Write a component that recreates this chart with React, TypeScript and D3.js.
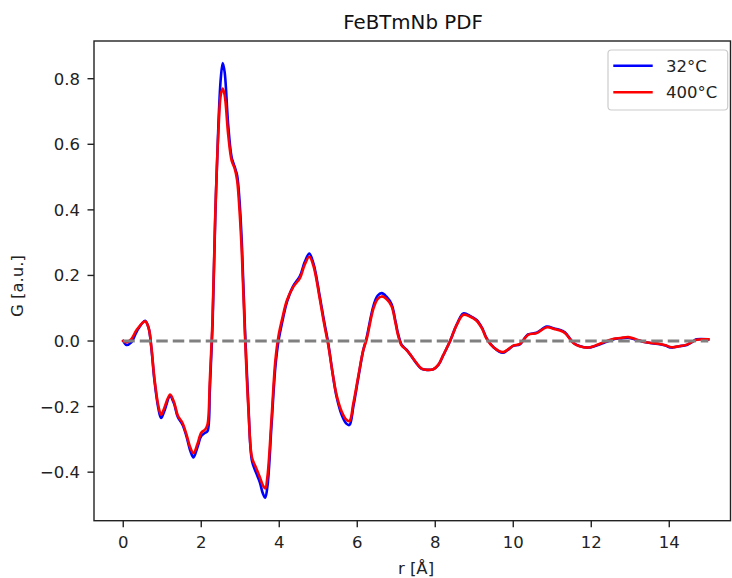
import React from "react";
import * as d3 from "d3";

const W = 732;
const H = 578;

// r grid [Å]
const rVals = [
  0.0, 0.08, 0.2, 0.35, 0.56, 0.65, 0.72, 0.8, 0.9, 0.97, 1.05, 1.2, 1.3, 1.4, 1.52, 1.62, 1.72, 1.8, 1.9, 2.0,
  2.1, 2.16, 2.22, 2.29, 2.36, 2.44, 2.5, 2.55, 2.6, 2.69, 2.78, 2.86, 2.92, 2.98, 3.04, 3.12, 3.21, 3.3, 3.4, 3.5,
  3.58, 3.64, 3.7, 3.8, 3.9, 3.98, 4.08, 4.2, 4.36, 4.53, 4.65, 4.77, 4.88, 5.04, 5.15, 5.26, 5.37, 5.47, 5.6, 5.72,
  5.8, 5.9, 6.03, 6.15, 6.24, 6.41, 6.52, 6.63, 6.75, 6.88, 6.98, 7.05, 7.14, 7.25, 7.35, 7.5, 7.65, 7.8, 7.95, 8.08,
  8.2, 8.38, 8.55, 8.72, 8.9, 9.06, 9.2, 9.32, 9.5, 9.73, 9.85, 10.0, 10.17, 10.38, 10.6, 10.86, 11.05, 11.2, 11.33, 11.54,
  11.7, 11.92, 12.1, 12.27, 12.56, 12.75, 12.95, 13.15, 13.33, 13.55, 13.76, 13.9, 14.06, 14.25, 14.45, 14.6, 14.7, 15.0,
];

// 32°C
const g32 = [
  0.0, -0.012, -0.005, 0.03, 0.062, 0.04, -0.02, -0.12, -0.205, -0.235, -0.215, -0.168, -0.19, -0.232, -0.255, -0.29, -0.335, -0.355, -0.325, -0.29,
  -0.28, -0.275, -0.15, 0.05, 0.38, 0.66, 0.8, 0.848, 0.82, 0.66, 0.56, 0.53, 0.505, 0.43, 0.3, 0.04, -0.2, -0.365, -0.4, -0.43,
  -0.465, -0.478, -0.44, -0.26, -0.08, 0.0, 0.06, 0.12, 0.168, 0.198, 0.24, 0.267, 0.235, 0.135, 0.06, -0.01, -0.1, -0.17, -0.225, -0.252,
  -0.256, -0.2, -0.11, -0.03, 0.01, 0.105, 0.138, 0.146, 0.135, 0.112, 0.06, 0.02, -0.012, -0.025, -0.04, -0.065, -0.085, -0.088, -0.086, -0.073,
  -0.045, 0.0, 0.05, 0.084, 0.076, 0.064, 0.04, 0.008, -0.02, -0.036, -0.028, -0.015, -0.01, 0.02, 0.025, 0.044, 0.038, 0.034, 0.026, -0.005,
  -0.015, -0.02, -0.015, -0.008, 0.005, 0.008, 0.01, 0.004, -0.002, -0.007, -0.01, -0.014, -0.02, -0.016, -0.012, -0.002, 0.005, 0.005,
];

// 400°C
const g400 = [
  0.0, -0.004, 0.005, 0.035, 0.06, 0.04, -0.018, -0.115, -0.198, -0.225, -0.205, -0.163, -0.186, -0.228, -0.25, -0.285, -0.325, -0.342, -0.315, -0.28,
  -0.27, -0.255, -0.12, 0.07, 0.39, 0.64, 0.75, 0.77, 0.75, 0.63, 0.55, 0.525, 0.49, 0.4, 0.27, 0.02, -0.21, -0.355, -0.385, -0.415,
  -0.44, -0.45, -0.41, -0.24, -0.06, 0.015, 0.07, 0.125, 0.165, 0.192, 0.232, 0.257, 0.228, 0.128, 0.053, -0.015, -0.1, -0.165, -0.215, -0.24,
  -0.244, -0.19, -0.105, -0.03, 0.005, 0.097, 0.128, 0.136, 0.128, 0.106, 0.055, 0.016, -0.014, -0.026, -0.04, -0.064, -0.084, -0.088, -0.086, -0.072,
  -0.044, 0.0, 0.049, 0.08, 0.074, 0.062, 0.038, 0.006, -0.02, -0.034, -0.027, -0.014, -0.009, 0.019, 0.024, 0.042, 0.037, 0.032, 0.024, -0.006,
  -0.016, -0.02, -0.014, -0.006, 0.006, 0.009, 0.012, 0.005, -0.002, -0.006, -0.009, -0.013, -0.019, -0.016, -0.011, -0.002, 0.004, 0.005,
];

const xTicks = [0, 2, 4, 6, 8, 10, 12, 14];
const yTicks = [-0.4, -0.2, 0.0, 0.2, 0.4, 0.6, 0.8];
const seriesLabels = ["32°C", "400°C"];
const seriesColors = ["#0000ff", "#ff0000"];

const FONT = "DejaVu Sans, sans-serif";

export default function App() {
  const left = 94;
  const right = 730.5;
  const top = 41;
  const bottom = 520.7;

  const x = d3.scaleLinear().domain([-0.75, 15.57]).range([left, right]);
  const y = d3.scaleLinear().domain([-0.548, 0.915]).range([bottom, top]);

  const line = d3
    .line<[number, number]>()
    .x((d) => x(d[0]))
    .y((d) => y(d[1]))
    .curve(d3.curveCatmullRom.alpha(0.5));

  const series = [g32, g400].map((g) => rVals.map((r, i) => [r, g[i]] as [number, number]));

  const fmtY = (v: number) => {
    const s = Math.abs(v).toFixed(1);
    return v < -1e-9 ? "\u2212" + s : s;
  };

  return (
    <svg
      width={W}
      height={H}
      style={{ position: "absolute", left: 0, top: 0, background: "#fff" }}
      fontFamily={FONT}
    >
      <rect x={0} y={0} width={W} height={H} fill="#fff" />
      <defs>
        <clipPath id="plotclip">
          <rect x={left} y={top} width={right - left} height={bottom - top} />
        </clipPath>
      </defs>

      <g clipPath="url(#plotclip)">
        {series.map((s, i) => (
          <path
            key={i}
            d={line(s) || ""}
            fill="none"
            stroke={seriesColors[i]}
            strokeWidth={2.6}
            strokeLinejoin="round"
            strokeLinecap="square"
          />
        ))}
        <line
          x1={x(0)}
          x2={x(15)}
          y1={y(0)}
          y2={y(0)}
          stroke="#808080"
          strokeWidth={2.8}
          strokeDasharray="11.5 5"
        />
      </g>

      {/* spines */}
      <rect
        x={left}
        y={top}
        width={right - left}
        height={bottom - top}
        fill="none"
        stroke="#222"
        strokeWidth={1.4}
      />

      {/* x ticks */}
      {xTicks.map((t) => (
        <g key={"x" + t}>
          <line x1={x(t)} x2={x(t)} y1={bottom} y2={bottom + 6.5} stroke="#222" strokeWidth={1.4} />
          <text x={x(t)} y={548} textAnchor="middle" fontSize={16.5} fill="#222">
            {t}
          </text>
        </g>
      ))}

      {/* y ticks */}
      {yTicks.map((t) => (
        <g key={"y" + t}>
          <line x1={left - 6.5} x2={left} y1={y(t)} y2={y(t)} stroke="#222" strokeWidth={1.4} />
          <text x={80} y={y(t) + 6} textAnchor="end" fontSize={16.5} fill="#222">
            {fmtY(t)}
          </text>
        </g>
      ))}

      {/* title */}
      <text x={413} y={29} textAnchor="middle" fontSize={19.8} fill="#111">
        FeBTmNb PDF
      </text>

      {/* axis labels */}
      <text x={416} y={574} textAnchor="middle" fontSize={16.5} fill="#222">
        r [Å]
      </text>
      <text
        transform={`translate(23,286) rotate(-90)`}
        textAnchor="middle"
        fontSize={16.5}
        fill="#222"
      >
        G [a.u.]
      </text>

      {/* legend */}
      <rect x={608} y={50} width={119.7} height={60} rx={3.5} fill="#fff" fillOpacity={0.8} stroke="#cccccc" strokeWidth={1.2} />
      {seriesLabels.map((lab, i) => {
        const ly = 65.7 + i * 26.6;
        return (
          <g key={lab}>
            <line x1={613.3} x2={652.7} y1={ly} y2={ly} stroke={seriesColors[i]} strokeWidth={2.6} />
            <text x={666} y={ly + 6} fontSize={16.5} fill="#222">
              {lab}
            </text>
          </g>
        );
      })}
    </svg>
  );
}
